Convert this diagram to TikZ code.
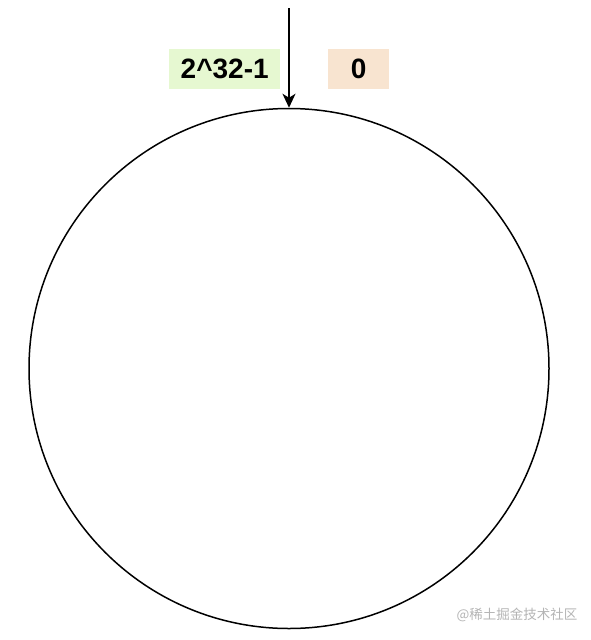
\documentclass[tikz,border=0pt]{standalone}
\usepackage{fontspec}
\setmainfont{Liberation Sans}
\newfontfamily\cjk{Noto Sans CJK SC}
\usetikzlibrary{arrows.meta}
\definecolor{lgreen}{HTML}{E6F8D1}
\definecolor{lpeach}{HTML}{F8E4D0}
\definecolor{wmgray}{HTML}{B4B4B4}
\tikzset{
  labelbox/.style={inner sep=0pt, anchor=north west, font=\fontsize{28}{32}\selectfont\bfseries},
}
\begin{document}
\begin{tikzpicture}[x=1pt,y=-1pt]
\useasboundingbox (0,0) rectangle (590,640);
\node[labelbox, fill=lgreen, minimum width=111pt, minimum height=40pt] (hi) at (169,49) {2\textasciicircum 32-1};
\node[labelbox, fill=lpeach, minimum width=61pt, minimum height=40pt] (zero) at (328,49) {0};
\node[circle, draw, line width=1.5pt, minimum size=520pt, inner sep=0pt] (ring) at (289,368.5) {};
\coordinate (top) at (289,8);
\draw[line width=1.6pt, -{Stealth[length=14pt,width=13pt,inset=4pt]}] (top) -- (ring.north);
\node[font=\cjk\fontsize{13.5}{16}\selectfont, text=wmgray, inner sep=0pt] (wm) at (517,615) {@稀土掘金技术社区};
\end{tikzpicture}
\end{document}
